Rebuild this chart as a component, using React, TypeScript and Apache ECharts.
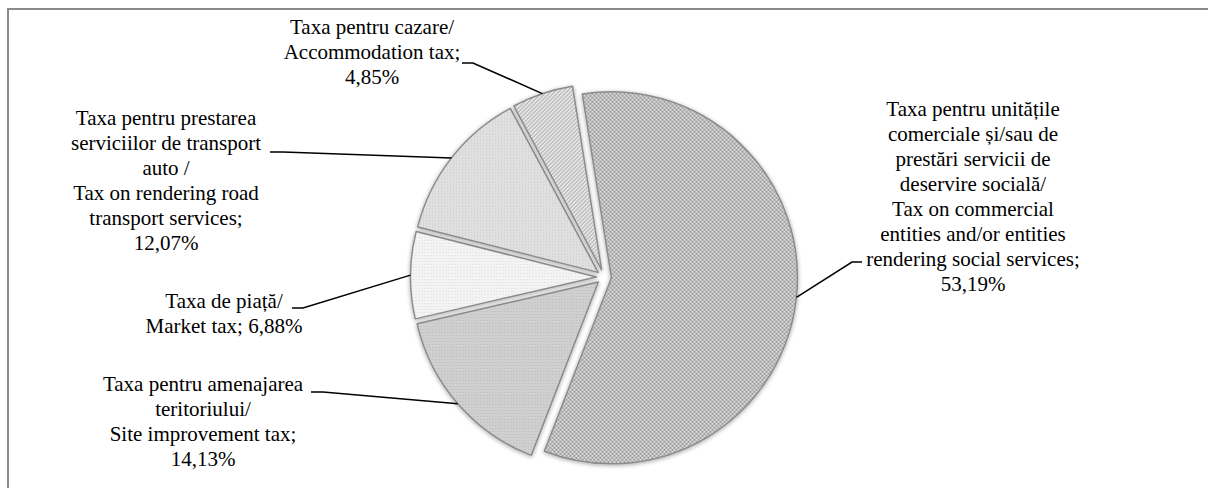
import React, { useEffect, useRef } from 'react';
import * as echarts from 'echarts';

// Local tax revenue structure, shares in percent
const categories = [
  'Taxa pentru unitățile\ncomerciale și/sau de\nprestări servicii de\ndeservire socială/\nTax on commercial\nentities and/or entities\nrendering social services',
  'Taxa pentru amenajarea\nteritoriului/\nSite improvement tax',
  'Taxa de piață/\nMarket tax',
  'Taxa pentru prestarea\nserviciilor de transport\nauto /\nTax on rendering road\ntransport services',
  'Taxa pentru cazare/\nAccommodation tax',
];
const shares = [53.19, 14.13, 6.88, 12.07, 4.85];
// what follows the ";" before the percentage in each label
const valueSeparators = ['\n', '\n', ' ', '\n', '\n'];

// pie geometry (px)
const CENTER: [number, number] = [604, 277];
const RADIUS = 186;
const EXPLODE = 7.5;
const START_ANGLE = 99;

// label block centres and the elbow / end of each leader line (px)
const labelPlacement = [
  { x: 973, y: 196, bend: [852, 262], end: [862, 262] },
  { x: 203, y: 421.5, bend: [323, 392], end: [311, 392] },
  { x: 224, y: 313.5, bend: [303, 308], end: [292, 308] },
  { x: 166, y: 180, bend: [283, 152], end: [270, 152] },
  { x: 372, y: 52, bend: [473, 63], end: [462, 63] },
];

const SERIF = 'Liberation Serif';

const formatPct = (v: number) => v.toFixed(2).replace('.', ',') + '%';
const labelTexts = categories.map(
  (c, i) => `${c};${valueSeparators[i]}${formatPct(shares[i])}`
);

// point on the outer arc of an exploded slice, at its mid angle
function arcAnchor(i: number): number[] {
  const total = shares.reduce((a, b) => a + b, 0);
  let before = 0;
  for (let k = 0; k < i; k++) before += shares[k];
  const mid = START_ANGLE - ((before + shares[i] / 2) / total) * 360;
  const rad = (mid * Math.PI) / 180;
  const r = RADIUS + EXPLODE;
  return [CENTER[0] + r * Math.cos(rad), CENTER[1] - r * Math.sin(rad)];
}

function tile(size: number, draw: (ctx: CanvasRenderingContext2D) => void) {
  const c = document.createElement('canvas');
  c.width = size;
  c.height = size;
  const ctx = c.getContext('2d') as CanvasRenderingContext2D;
  draw(ctx);
  return { image: c, repeat: 'repeat', imageWidth: size, imageHeight: size } as any;
}

function checker(bg: string, fg: string, cell: number) {
  return tile(cell * 2, (ctx) => {
    ctx.fillStyle = bg;
    ctx.fillRect(0, 0, cell * 2, cell * 2);
    ctx.fillStyle = fg;
    ctx.fillRect(0, 0, cell, cell);
    ctx.fillRect(cell, cell, cell, cell);
  });
}

function dots(bg: string, fg: string, size: number) {
  return tile(size, (ctx) => {
    ctx.fillStyle = bg;
    ctx.fillRect(0, 0, size, size);
    ctx.fillStyle = fg;
    ctx.fillRect(0, 0, 1, 1);
  });
}

function stripes(bg: string, fg: string) {
  return tile(4, (ctx) => {
    ctx.fillStyle = bg;
    ctx.fillRect(0, 0, 4, 4);
    ctx.fillStyle = fg;
    for (let k = 0; k < 4; k++) {
      ctx.fillRect(k, 3 - k, 1, 1);
    }
  });
}

export default function App() {
  const ref = useRef<HTMLDivElement>(null);

  useEffect(() => {
    document.body.style.margin = '0';
    const chart = echarts.init(ref.current as HTMLDivElement, undefined, {
      renderer: 'svg',
    });

    const fills = [
      checker('#dcdcdc', '#9c9c9c', 2),
      dots('#d0d0d0', '#b6b6b6', 3),
      dots('#f4f4f4', '#d8d8d8', 3),
      dots('#e0e0e0', '#c6c6c6', 3),
      stripes('#e6e6e6', '#9a9a9a'),
    ];

    const sliceStyle = {
      borderColor: '#8c8c8c',
      borderWidth: 1.5,
      shadowBlur: 4,
      shadowColor: 'rgba(0,0,0,0.35)',
      shadowOffsetY: 1,
    };

    // category labels and their leader lines
    const labelGraphics: any[] = [];
    labelTexts.forEach((text, i) => {
      const p = labelPlacement[i];
      labelGraphics.push({
        type: 'polyline',
        silent: true,
        shape: { points: [arcAnchor(i), p.bend, p.end] },
        style: { stroke: '#000000', lineWidth: 1.5, fill: null },
        z: 10,
      });
      labelGraphics.push({
        type: 'text',
        silent: true,
        x: p.x,
        y: p.y,
        style: {
          text,
          fontFamily: SERIF,
          fontSize: 21,
          lineHeight: 25,
          fill: '#000000',
          align: 'center',
          verticalAlign: 'middle',
          textAlign: 'center',
          textVerticalAlign: 'middle',
        },
        z: 10,
      });
    });

    chart.setOption({
      animation: false,
      backgroundColor: '#ffffff',
      graphic: [
        {
          type: 'line',
          silent: true,
          shape: { x1: 8, y1: 9, x2: 1208, y2: 9 },
          style: { stroke: '#8a8a8a', lineWidth: 2 },
        },
        {
          type: 'line',
          silent: true,
          shape: { x1: 8, y1: 8, x2: 8, y2: 488 },
          style: { stroke: '#8a8a8a', lineWidth: 2 },
        },
        ...labelGraphics,
      ],
      series: [
        {
          type: 'pie',
          center: CENTER,
          radius: RADIUS,
          startAngle: START_ANGLE,
          clockwise: true,
          selectedMode: 'multiple',
          selectedOffset: EXPLODE,
          silent: true,
          emphasis: { disabled: true },
          label: { show: false },
          labelLine: { show: false },
          itemStyle: sliceStyle,
          select: { itemStyle: sliceStyle },
          data: shares.map((v, i) => ({
            value: v,
            name: categories[i],
            selected: true,
            itemStyle: { color: fills[i] },
            select: { itemStyle: { color: fills[i] } },
          })),
          z: 2,
        },
      ],
    });

    return () => chart.dispose();
  }, []);

  return <div ref={ref} style={{ width: 1208, height: 488 }} />;
}
